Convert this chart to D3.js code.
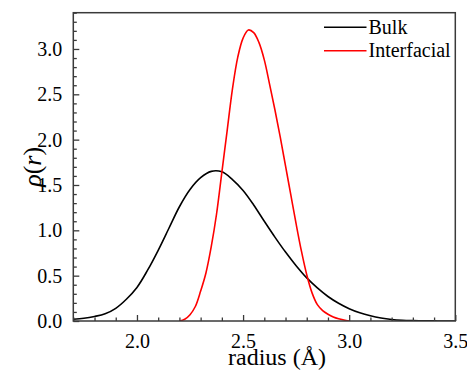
<!DOCTYPE html>
<html>
<head>
<meta charset="utf-8">
<script src="https://cdn.jsdelivr.net/npm/d3@7/dist/d3.min.js"></script>
<style>
  text, tspan { font-family: "Liberation Serif", monospace !important; }
</style>
</head>
<body style="margin:0">
<svg id="chart" width="467" height="371" font-family="Liberation Serif"></svg>
<script>
// Radial distribution of bond lengths for the bulk and interfacial regions
const bulkR = [1.70, 1.75, 1.80, 1.85, 1.90, 1.95, 2.00, 2.05, 2.10, 2.15, 2.20, 2.25, 2.30,
  2.35, 2.40, 2.45, 2.50, 2.55, 2.60, 2.65, 2.70, 2.75, 2.80, 2.85, 2.90, 2.95, 3.00,
  3.05, 3.10, 3.15, 3.20, 3.25, 3.30, 3.35, 3.40, 3.45, 3.50];
const bulkRho = [0.02, 0.03, 0.05, 0.08, 0.14, 0.24, 0.37, 0.56, 0.78, 1.02, 1.26, 1.45, 1.58,
  1.65, 1.645, 1.56, 1.44, 1.28, 1.10, 0.925, 0.76, 0.61, 0.475, 0.365, 0.27, 0.195, 0.135,
  0.09, 0.057, 0.033, 0.017, 0.008, 0.004, 0.002, 0.001, 0.0, 0.0];

const interR = [2.200, 2.225, 2.250, 2.275, 2.300, 2.325, 2.350, 2.375, 2.400, 2.425, 2.450,
  2.475, 2.500, 2.525, 2.550, 2.575, 2.600, 2.625, 2.650, 2.675, 2.700, 2.725, 2.750,
  2.775, 2.800, 2.825, 2.850, 2.875, 2.900, 2.925, 2.950, 2.975, 3.000];
const interRho = [0.00, 0.02, 0.07, 0.16, 0.33, 0.53, 0.82, 1.18, 1.64, 2.10, 2.56,
  2.91, 3.12, 3.21, 3.18, 3.07, 2.88, 2.61, 2.33, 2.03, 1.71, 1.39, 1.07,
  0.77, 0.51, 0.31, 0.18, 0.115, 0.075, 0.045, 0.025, 0.011, 0.0];

const xTicks = [2.0, 2.5, 3.0, 3.5];
const yTicks = [0.0, 0.5, 1.0, 1.5, 2.0, 2.5, 3.0];
const seriesNames = ["Bulk", "Interfacial"];
const seriesColors = ["#000000", "#ff0000"];

const svg = d3.select("#chart");
const plotLeft = 73.3, plotRight = 455.3, plotTop = 12.7, plotBottom = 321;
const axisColor = "#3a3a3a";

const x = d3.scaleLinear().domain([1.7, 3.5]).range([plotLeft, plotRight]);
const y = d3.scaleLinear().domain([0, 3.4]).range([plotBottom, plotTop]);

svg.append("clipPath").attr("id", "plot-clip")
  .append("rect").attr("x", plotLeft).attr("y", plotTop)
  .attr("width", plotRight - plotLeft).attr("height", plotBottom - plotTop);

// curves
const line = d3.line()
  .x(d => x(d[0])).y(d => y(d[1]))
  .curve(d3.curveCatmullRom.alpha(0.5));

const series = [
  d3.zip(bulkR, bulkRho),
  d3.zip(interR, interRho)
];

svg.append("g").attr("clip-path", "url(#plot-clip)")
  .selectAll("path").data(series).join("path")
  .attr("d", line)
  .attr("fill", "none")
  .attr("stroke", (d, i) => seriesColors[i])
  .attr("stroke-width", 1.6);

// minor ticks (inward)
const xMinor = d3.range(17, 36).map(v => v / 10).filter(v => !xTicks.some(t => Math.abs(t - v) < 1e-9));
const yMinor = d3.range(0, 35).map(v => v / 10).filter(v => !yTicks.some(t => Math.abs(t - v) < 1e-9));

const xAxis = d3.axisBottom(x).tickValues(xTicks).tickFormat(d3.format(".1f"))
  .tickSizeInner(-6).tickSizeOuter(0).tickPadding(13);
const xAxisMinor = d3.axisBottom(x).tickValues(xMinor).tickFormat("")
  .tickSizeInner(-3.5).tickSizeOuter(0);
const yAxis = d3.axisLeft(y).tickValues(yTicks).tickFormat(d3.format(".1f"))
  .tickSizeInner(-6).tickSizeOuter(0).tickPadding(11);
const yAxisMinor = d3.axisLeft(y).tickValues(yMinor).tickFormat("")
  .tickSizeInner(-3.5).tickSizeOuter(0);

function styleAxis(g) {
  g.attr("font-family", "Liberation Serif").attr("font-size", 20);
  g.select(".domain").remove();
  g.selectAll("line").attr("stroke", axisColor).attr("stroke-width", 1.3);
  g.selectAll("text").attr("fill", "#000")
    .attr("font-family", "Liberation Serif").attr("font-size", 20);
}

svg.append("g").attr("transform", `translate(0,${plotBottom})`).call(xAxisMinor).call(styleAxis);
svg.append("g").attr("transform", `translate(0,${plotBottom})`).call(xAxis).call(styleAxis);
svg.append("g").attr("transform", `translate(${plotLeft},0)`).call(yAxisMinor).call(styleAxis);
svg.append("g").attr("transform", `translate(${plotLeft},0)`).call(yAxis).call(styleAxis);

// frame
svg.append("rect")
  .attr("x", plotLeft).attr("y", plotTop)
  .attr("width", plotRight - plotLeft).attr("height", plotBottom - plotTop)
  .attr("fill", "none").attr("stroke", axisColor).attr("stroke-width", 1.5);

// axis titles
svg.append("text")
  .attr("x", 277).attr("y", 365)
  .attr("text-anchor", "middle")
  .attr("font-family", "Liberation Serif").attr("font-size", 24)
  .text("radius (Å)");

const yTitle = svg.append("text")
  .attr("transform", `translate(41,${(plotTop + plotBottom) / 2}) rotate(-90)`)
  .attr("text-anchor", "middle")
  .attr("font-family", "Liberation Serif").attr("font-size", 26);
yTitle.append("tspan").attr("font-style", "italic").text("ρ");
yTitle.append("tspan").text("(");
yTitle.append("tspan").attr("font-style", "italic").text("r");
yTitle.append("tspan").text(")");

// legend
seriesNames.forEach((name, i) => {
  const ly = 27.3 + i * 23.4;
  svg.append("line")
    .attr("x1", 324).attr("x2", 366.5)
    .attr("y1", ly).attr("y2", ly)
    .attr("stroke", seriesColors[i]).attr("stroke-width", 1.6);
  svg.append("text")
    .attr("x", 368.5).attr("y", ly + 6.5)
    .attr("font-family", "Liberation Serif").attr("font-size", 20)
    .text(name);
});
</script>
</body>
</html>
